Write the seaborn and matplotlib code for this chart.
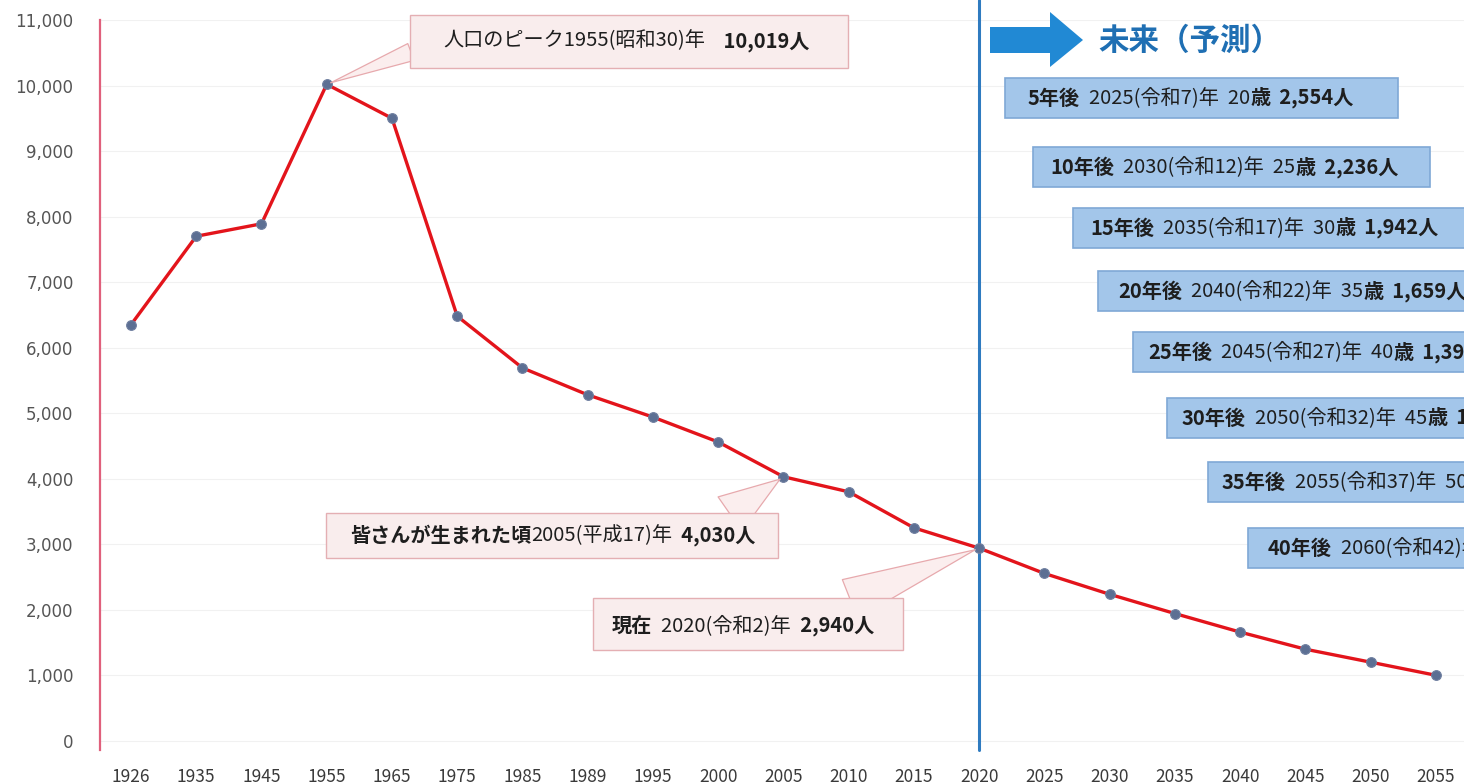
import numpy as np
import pandas as pd
import matplotlib
matplotlib.use("Agg")
import matplotlib.pyplot as plt
import matplotlib.patches as mpatches
from matplotlib.ticker import FuncFormatter
import seaborn as sns

# data
years = ['1926', '1935', '1945', '1955', '1965', '1975', '1985', '1989', '1995', '2000',
         '2005', '2010', '2015', '2020', '2025', '2030', '2035', '2040', '2045', '2050', '2055']
population = [6350, 7700, 7890, 10019, 9500, 6480, 5690, 5280, 4940, 4560,
              4030, 3800, 3250, 2940, 2554, 2236, 1942, 1659, 1398, 1200, 1000]

# future (forecast) boxes
fut_after = [5, 10, 15, 20, 25, 30, 35, 40]
fut_year = [2025, 2030, 2035, 2040, 2045, 2050, 2055, 2060]
fut_reiwa = [7, 12, 17, 22, 27, 32, 37, 42]
fut_age = [20, 25, 30, 35, 40, 45, 50, 55]
fut_pop = [2554, 2236, 1942, 1659, 1398, 1200, 1000, 850]

W, H = 1464, 784
sns.set_style("white")
plt.rcParams['font.family'] = ['Noto Sans CJK JP', 'DejaVu Sans']

fig = plt.figure(figsize=(W / 100, H / 100), dpi=100)
ax = fig.add_axes([100 / W, 34 / H, 1364 / W, 730 / H])


def fp(x, y):
    # pixel position -> figure fraction
    return (x / W, 1 - y / H)


df = pd.DataFrame({'idx': np.arange(len(years)), 'pop': population})
sns.lineplot(data=df, x='idx', y='pop', ax=ax, color='#e3141b', lw=2.4,
             marker='o', markersize=7, markerfacecolor='#5c6f93',
             markeredgecolor='#6f7fa0', markeredgewidth=0.8, zorder=3)

ax.set_xlim(-0.475, len(years) - 1 + 0.43)
ax.set_ylim(-140, 11000)
ax.set_xticks(np.arange(len(years)))
ax.set_xticklabels(years)
ax.set_yticks(np.arange(0, 11001, 1000))
ax.yaxis.set_major_formatter(FuncFormatter(lambda v, _: f'{int(v):,}'))
ax.set_xlabel('')
ax.set_ylabel('')

spine_c = '#e0607c'
for s in ['top', 'right', 'bottom']:
    ax.spines[s].set_visible(False)
ax.spines['left'].set_color(spine_c)
ax.spines['left'].set_linewidth(1.6)
ax.tick_params(axis='y', direction='in', length=4, width=1, color=spine_c,
               pad=19, labelsize=12, labelcolor='#555555')
for lab in ax.get_yticklabels():
    lab.set_family(['DejaVu Sans'])
ax.tick_params(axis='x', length=0, pad=13, labelsize=12.5, labelcolor='#3a3a3a')
ax.yaxis.grid(True, color='#f1f1f1', lw=0.8)
ax.set_axisbelow(True)

# 2020 divider
ax.axvline(years.index('2020'), ymin=0, ymax=1 + 20 / 730, color='#2f7bc0',
           lw=2.2, clip_on=False, zorder=2)


def box(x0, y0, x1, y1, fc, ec, lw=1.0):
    (fx0, fy1) = fp(x0, y1)
    p = mpatches.Rectangle((fx0, fy1), (x1 - x0) / W, (y1 - y0) / H,
                           transform=fig.transFigure, fc=fc, ec=ec, lw=lw,
                           clip_on=False, zorder=5)
    ax.add_artist(p)


def rich_text(x, y, pieces, size=12):
    prev = None
    for s, w in pieces:
        if prev is None:
            prev = ax.text(*fp(x, y), s, transform=fig.transFigure, ha='left',
                           va='center', fontsize=size, fontweight=w,
                           color='#1e1e1e', zorder=6, clip_on=False)
        else:
            prev = ax.annotate(s, xy=(1, 0), xycoords=prev, va='bottom', ha='left',
                               fontsize=size, fontweight=w, color='#1e1e1e',
                               zorder=6, annotation_clip=False)


def callout(xy, base, width):
    ax.annotate('', xy=xy, xycoords='data', xytext=fp(*base),
                textcoords='figure fraction',
                arrowprops=dict(arrowstyle=f'wedge,tail_width={width},shrink_factor=0.5',
                                fc='#fbeeee', ec='#e7a9ad', lw=0.9,
                                shrinkA=0, shrinkB=3),
                zorder=4, annotation_clip=False)


pink_fc, pink_ec = '#f9eded', '#e4afb3'
i_peak, i_2005, i_2020 = years.index('1955'), years.index('2005'), years.index('2020')

# peak
callout((i_peak, population[i_peak]), (411, 52), 1.3)
box(410, 15, 848, 68, pink_fc, pink_ec)
rich_text(443, 41, [('人口のピーク1955(昭和30)年', 'normal'),
                    (f'    {population[i_peak]:,}人', 'bold')], size=14.5)

# 2005
callout((i_2005, population[i_2005]), (730, 514), 3.0)
box(326, 513, 778, 558, pink_fc, pink_ec)
rich_text(350, 536, [('皆さんが生まれた頃', 'bold'), ('2005(平成17)年', 'normal'),
                     (f'  {population[i_2005]:,}人', 'bold')], size=14.5)

# 2020
callout((i_2020, population[i_2020]), (850, 599), 3.0)
box(593, 598, 903, 650, pink_fc, pink_ec)
rich_text(612, 626, [('現在', 'bold'), ('  2020(令和2)年', 'normal'),
                     (f'  {population[i_2020]:,}人', 'bold')], size=14.5)

# forecast arrow and title
arrow_px = [(990, 27), (1050, 27), (1050, 12), (1083, 40), (1050, 67), (1050, 53), (990, 53)]
ax.add_artist(mpatches.Polygon([fp(*p) for p in arrow_px], closed=True,
                               transform=fig.transFigure, fc='#2189d4', ec='none',
                               clip_on=False, zorder=5))
ax.text(*fp(1098, 41), '未来（予測）', transform=fig.transFigure, ha='left', va='center',
        fontsize=22, fontweight='bold', color='#1f6fb3', zorder=6, clip_on=False)

# forecast boxes
box_x = [1005, 1033, 1073, 1098, 1133, 1167, 1208, 1248]
box_r = [1398, 1430, 1500, 1500, 1500, 1500, 1500, 1500]
box_y = [78, 147, 208, 271, 332, 398, 462, 528]
txt_dx = [23, 17, 17, 20, 15, 15, 14, 20]
for k in range(len(fut_after)):
    y0 = box_y[k]
    box(box_x[k], y0, box_r[k], y0 + 40, '#a3c6ea', '#7fa8d6', lw=1.2)
    rich_text(box_x[k] + txt_dx[k], y0 + 20,
              [(f'{fut_after[k]}年後', 'bold'),
               (f'  {fut_year[k]}(令和{fut_reiwa[k]})年  {fut_age[k]}', 'normal'),
               ('歳', 'bold'),
               (f'  {fut_pop[k]:,}人', 'bold')], size=14.5)

fig.savefig('out.png', dpi=100, facecolor='white')
